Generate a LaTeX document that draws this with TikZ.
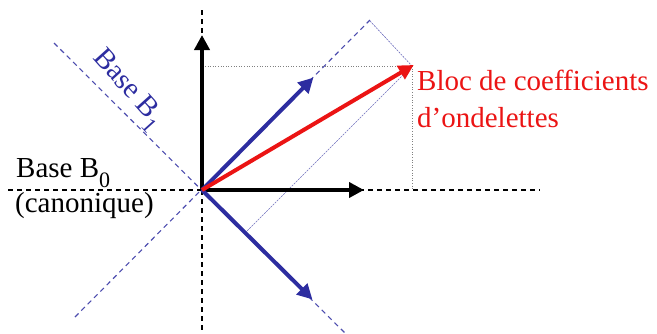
\documentclass[tikz,border=0pt]{standalone}
\usepackage{fontspec}
\setmainfont{Liberation Serif}
\usetikzlibrary{arrows.meta}
\definecolor{bblue}{RGB}{45,45,160}
\definecolor{rred}{RGB}{235,20,20}
\newcommand{\mysub}[1]{\raisebox{-10pt}{\fontsize{22}{22}\selectfont #1}}
\tikzset{
  axis/.style={black, line width=1.4pt, dash pattern=on 5pt off 4pt},
  diag/.style={bblue!85, line width=1.1pt, dash pattern=on 5pt off 4pt},
  vec/.style={line width=4pt, -{Triangle[length=15pt,width=15pt]}, shorten >=-2pt},
  proj/.style={gray, line width=0.6pt, dotted},
  projb/.style={bblue!70, line width=0.6pt, dash pattern=on 2pt off 1pt},
  lbl/.style={font=\fontsize{29}{34}\selectfont, inner sep=0pt}
}
\begin{document}
\begin{tikzpicture}[x=1pt,y=-1pt]
\useasboundingbox (0,0) rectangle (657,333);
\coordinate (O) at (202,190);
\coordinate (Vt) at (202,10);
\coordinate (Vb) at (202,332);
\coordinate (Hl) at (8,190);
\coordinate (Hr) at (540,190);
\coordinate (D1a) at (75,317);
\coordinate (D1b) at (370,20);
\coordinate (D2a) at (54,43);
\coordinate (D2b) at (345,333);
\coordinate (P) at (412,66);
\coordinate (Px) at (205,66);
\coordinate (Py) at (412,190);
\coordinate (Q1) at (370,21);
\coordinate (Q2) at (245,233);
\coordinate (E1) at (202,37);
\coordinate (E2) at (362,190);
\coordinate (B1) at (312,79);
\coordinate (B2) at (311,298);
% axes
\draw[axis] (Vt) -- (Vb);
\draw[axis] (Hl) -- (Hr);
\draw[diag] (D1a) -- (D1b);
\draw[diag] (D2a) -- (D2b);
% projections
\draw[proj] (Px) -- (P);
\draw[proj] (P) -- (Py);
\draw[projb] (Q1) -- (P);
\draw[projb] (P) -- (Q2);
% vectors
\draw[vec, black] (O) -- (E1);
\draw[vec, black] (O) -- (E2);
\draw[vec, bblue] (O) -- (B1);
\draw[vec, bblue] (O) -- (B2);
\draw[vec, rred] (O) -- (P);
% labels
\node[lbl, text=rred, anchor=base west] (t1) at (417,90) {Bloc de coefficients};
\node[lbl, text=rred, anchor=base west] (t2) at (417,127) {d’ondelettes};
\node[lbl, anchor=base west] (t3) at (16,177) {Base B\mysub{0}};
\node[lbl, anchor=base west] (t4) at (15,212) {(canonique)};
\node[lbl, text=bblue, rotate=-48] (t5) at (127,90) {Base B\mysub{1}};
\end{tikzpicture}
\end{document}
